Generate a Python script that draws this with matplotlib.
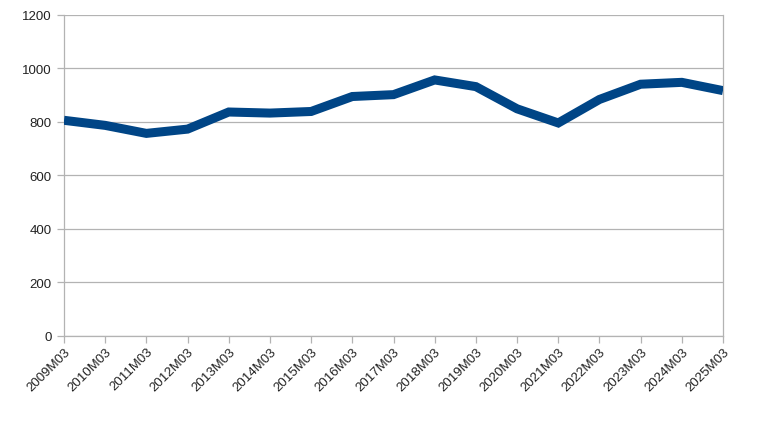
import matplotlib
matplotlib.use("Agg")
import matplotlib.pyplot as plt

periods = ["2009M03", "2010M03", "2011M03", "2012M03", "2013M03", "2014M03",
           "2015M03", "2016M03", "2017M03", "2018M03", "2019M03", "2020M03",
           "2021M03", "2022M03", "2023M03", "2024M03", "2025M03"]
values = [806, 787, 757, 773, 837, 833, 839, 895, 902, 957, 932, 849,
          796, 884, 941, 948, 917]
yticks = [0, 200, 400, 600, 800, 1000, 1200]

plt.rcParams['font.family'] = ['Liberation Sans', 'DejaVu Sans']

fig = plt.figure(figsize=(7.6, 4.27), dpi=100)
ax = fig.add_axes([64/760, 1-336.7/427, (723-64)/760, (336.7-16)/427])

x = list(range(len(periods)))
ax.plot(x, values, color="#004586", linewidth=6.5, solid_joinstyle="miter",
        solid_capstyle="butt", zorder=3)

ax.set_xlim(0, len(periods)-1)
ax.set_ylim(0, 1200)
ax.set_yticks(yticks)
ax.set_yticklabels([str(v) for v in yticks], fontsize=9.5, color="#222222")
ax.set_xticks(x)
ax.set_xticklabels(periods, rotation=45, ha="right", va="top",
                   rotation_mode="anchor", fontsize=9.5, color="#222222")
ax.grid(axis="y", color="#b3b3b3", linewidth=0.9)
ax.set_axisbelow(True)
for s in ax.spines.values():
    s.set_color("#b3b3b3")
    s.set_linewidth(0.9)
ax.spines["top"].set_visible(False)
ax.tick_params(axis="both", color="#b3b3b3", length=5, width=0.9)
ax.tick_params(axis="y", pad=4)
ax.tick_params(axis="x", pad=2)

fig.savefig("out.png", dpi=100)
